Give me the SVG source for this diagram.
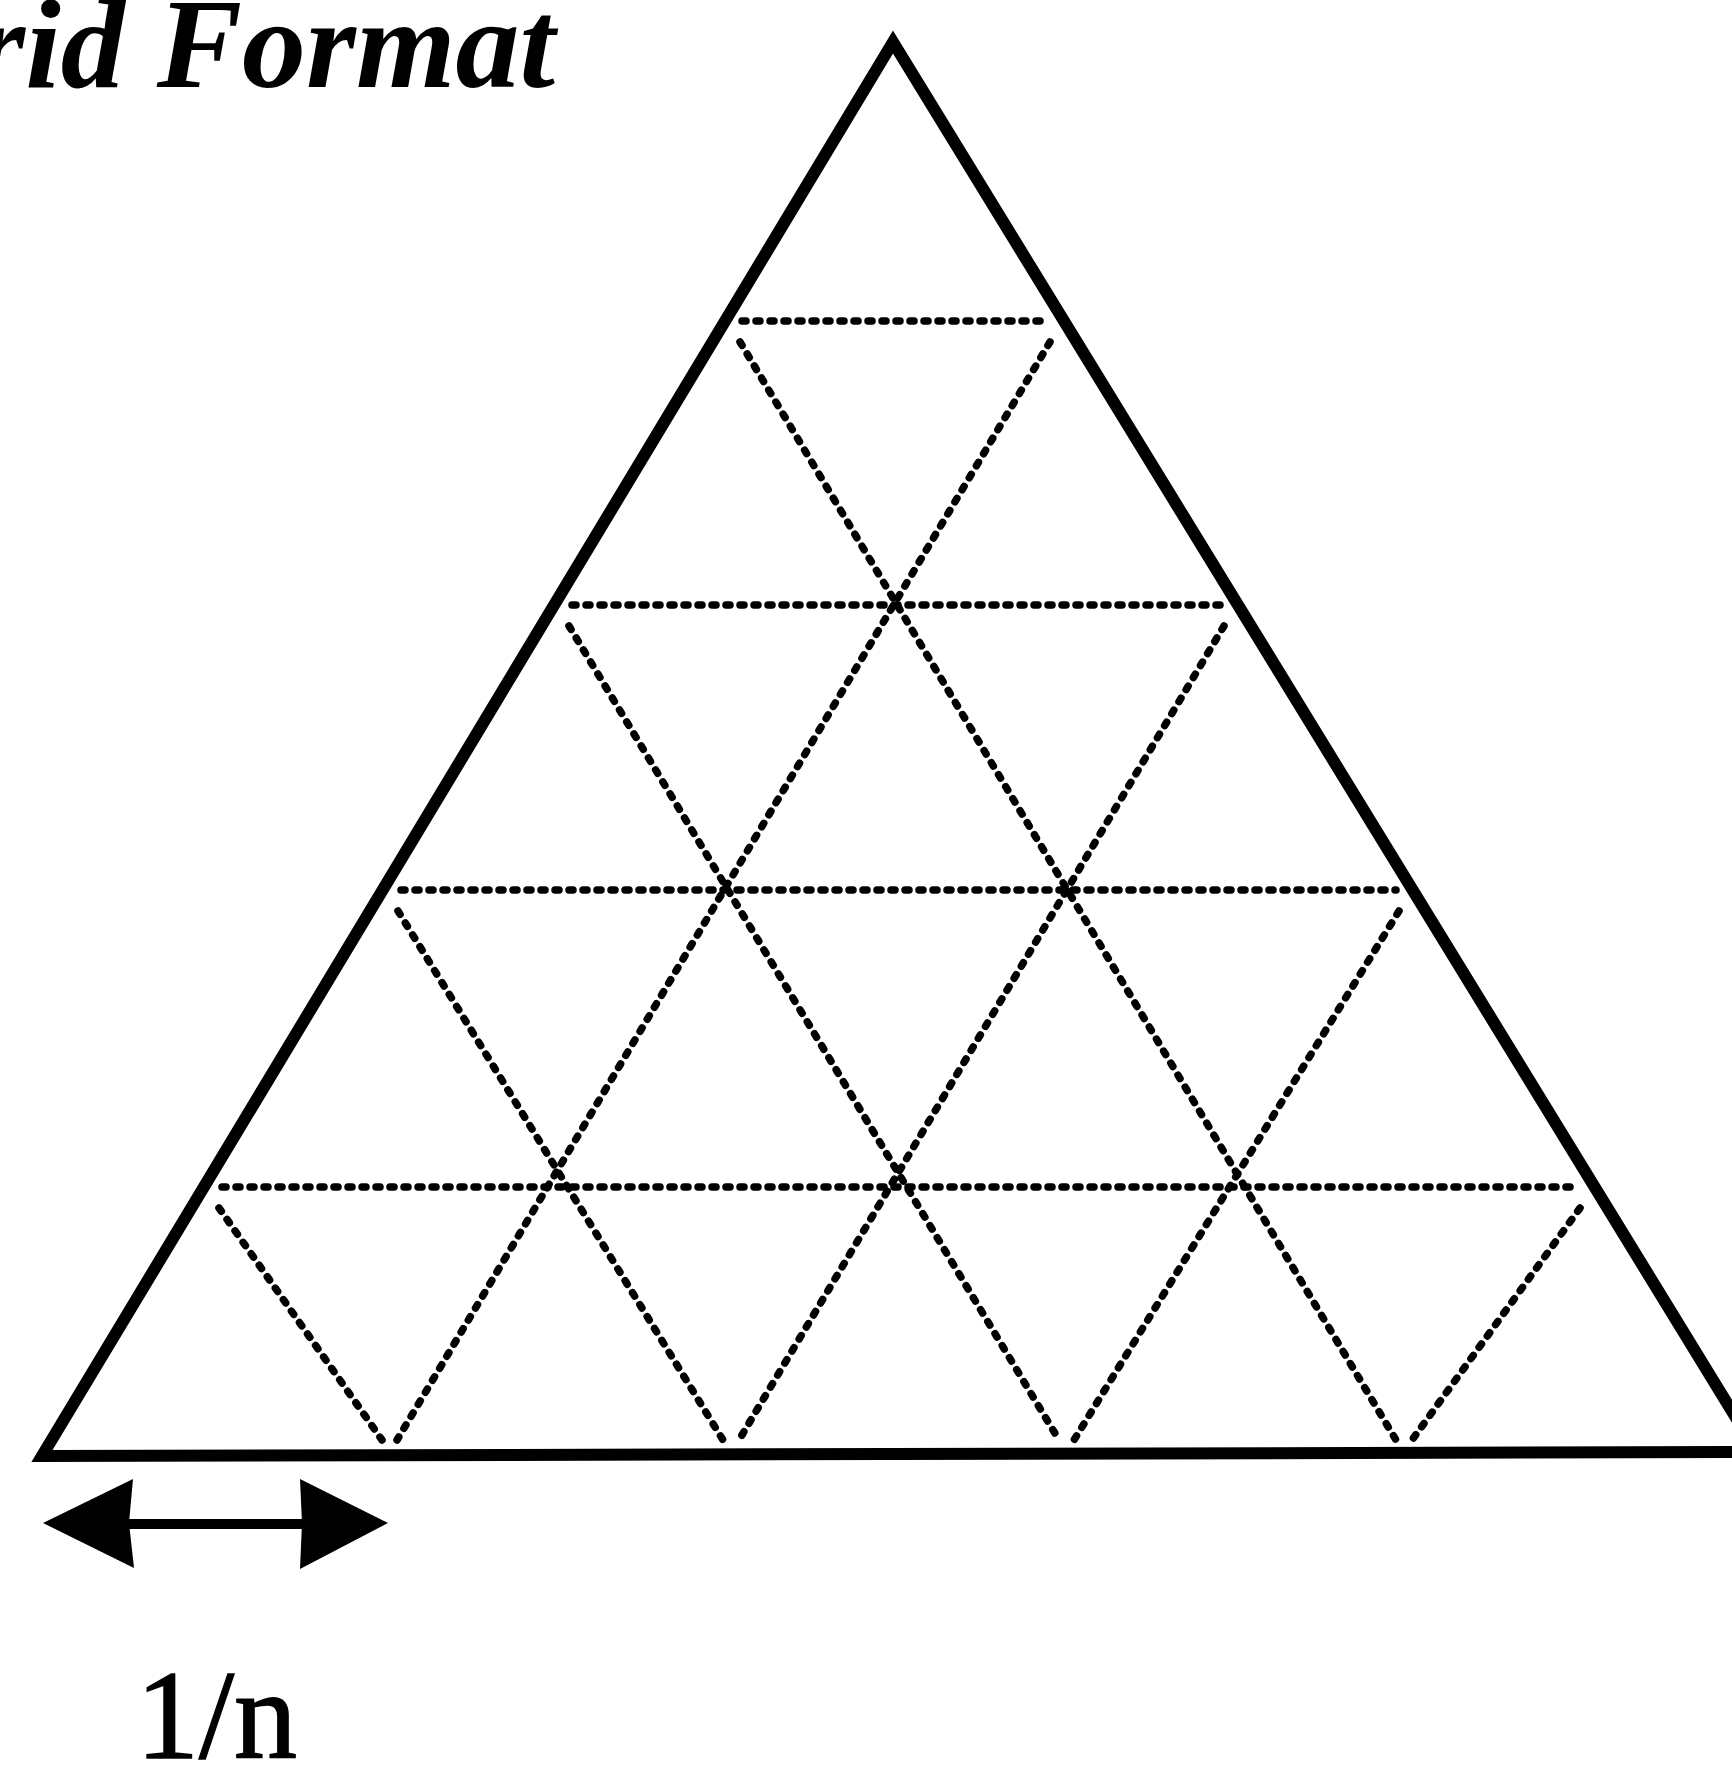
<svg xmlns="http://www.w3.org/2000/svg" width="1732" height="1768" viewBox="0 0 1732 1768">
  <style>
    .edge { fill: none; stroke: #000; stroke-width: 12; stroke-linejoin: miter; stroke-miterlimit: 10; }
    .dot { fill: none; stroke: #000; stroke-width: 7.5; stroke-dasharray: 4 10; stroke-linecap: round; }
    .lbl { font-family: "Liberation Serif", "Times New Roman", serif; fill: #000; }
  </style>
  <rect width="1732" height="1768" fill="#fff"/>
  <g id="title">
    <text class="lbl" x="555" y="87" font-size="128" font-style="italic" font-weight="bold" text-anchor="end">Grid Format</text>
  </g>
  <g id="triangle">
    <polygon class="edge" points="893,42 42,1456 1757,1452"/>
  </g>
  <g id="grid">
    <!-- horizontal rows -->
    <line class="dot" x1="742" y1="321" x2="1048" y2="321"/>
    <line class="dot" x1="572" y1="605" x2="1222" y2="605"/>
    <line class="dot" x1="401" y1="890" x2="1396" y2="890"/>
    <line class="dot" x1="222" y1="1187" x2="1578" y2="1187"/>
    <!-- "\" diagonals -->
    <line class="dot" x1="740" y1="342" x2="1396" y2="1440"/>
    <line class="dot" x1="569" y1="626" x2="1059" y2="1440"/>
    <line class="dot" x1="398" y1="911" x2="723" y2="1440"/>
    <line class="dot" x1="219" y1="1208" x2="382" y2="1440"/>
    <!-- "/" diagonals -->
    <line class="dot" x1="1050" y1="342" x2="397" y2="1440"/>
    <line class="dot" x1="1224" y1="626" x2="739" y2="1440"/>
    <line class="dot" x1="1399" y1="911" x2="1074" y2="1440"/>
    <line class="dot" x1="1580" y1="1208" x2="1412" y2="1440"/>
  </g>
  <g id="dimension">
    <line x1="125" y1="1524" x2="305" y2="1524" stroke="#000" stroke-width="10"/>
    <polygon points="43,1523 133,1479 129,1523 134,1568" fill="#000"/>
    <polygon points="388,1523 300,1479 302,1523 300,1569" fill="#000"/>
    <text class="lbl" x="136" y="1758" font-size="126" stroke="#000" stroke-width="1.5">1/n</text>
  </g>
</svg>
